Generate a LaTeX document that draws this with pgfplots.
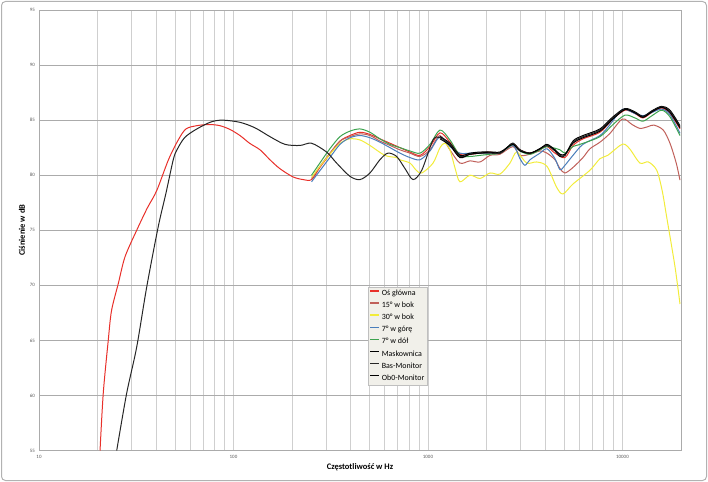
\documentclass[border=0pt]{standalone}
\usepackage{fontspec}
\setmainfont{Carlito}
\usepackage{pgfplots}
\pgfplotsset{compat=1.18}
\definecolor{cRed}{HTML}{E8302A}
\definecolor{cBrown}{HTML}{C0605A}
\definecolor{cYel}{HTML}{F2EC3A}
\definecolor{cBlue}{HTML}{4A7EBB}
\definecolor{cGreen}{HTML}{3DA34F}
\definecolor{gridx}{HTML}{CFCFCF}
\definecolor{gridy}{HTML}{ABABAB}
\definecolor{legbg}{HTML}{F1F0EA}
\begin{document}
\begin{tikzpicture}
\useasboundingbox (0,0) rectangle (708bp,482bp);
\draw[gray!60, line width=1bp, rounded corners=4bp] (1.5bp,1.5bp) rectangle (706.5bp,480.5bp);
\begin{axis}[
 at={(39bp,31.5bp)}, anchor=south west,
 width=642bp, height=440.5bp, scale only axis,
 xmode=log, xmin=10, xmax=20000, ymin=55, ymax=95,
 ytick={55,60,...,95},
 xtick={10,100,1000,10000},
 xticklabels={10,100,1000,10000},
 minor xtick={20,30,40,50,60,70,80,90,200,300,400,500,600,700,800,900,2000,3000,4000,5000,6000,7000,8000,9000},
 grid=both,
 major x grid style={gridx, line width=0.8bp},
 minor x grid style={gridx, line width=0.8bp},
 major y grid style={gridy, line width=0.8bp},
 axis line style={gridy, line width=0.8bp},
 tick style={draw=none},
 ticklabel style={font=\fontsize{5}{6}\selectfont, text=gray!70!black, inner sep=0pt},
 yticklabel style={anchor=east, xshift=-4bp},
 xticklabel style={anchor=north, yshift=-5bp},
 /pgf/number format/assume math mode=true,
 xlabel={Częstotliwość w Hz}, ylabel={Ciśnienie w dB},
 label style={font=\fontsize{8.5}{10}\selectfont\bfseries},
 xlabel style={at={(axis description cs:0.5,-0.0386)}, anchor=center},
 ylabel style={at={(axis description cs:-0.0265,0.5)}, anchor=center},
 legend style={at={(0.5125,0.372)}, anchor=north west, fill=legbg, draw=gray!50,
   font=\fontsize{8}{9}\selectfont, row sep=1.9bp, inner sep=1.5bp,
   nodes={inner sep=1.6bp}},
 legend cell align=left,
 legend image code/.code={\draw[#1, line width=1.5bp] (0bp,2.5bp) -- (9bp,2.5bp);},
]
% main axis (red)
\addplot[cRed, line width=1bp, smooth] coordinates {
(20.6,55)(21.4,60.2)(22.7,65)(23.6,67.7)(25.6,70.2)(27.7,72.6)(31.8,75)(36,77)(40.3,78.6)(46.3,81.4)(52,83.2)(57,84.2)(65,84.5)(75,84.6)(85,84.5)(96,84.15)(108,83.6)(121,82.9)(137,82.3)(154,81.4)(173,80.6)(202,79.85)(228,79.6)(252,79.6)
(278,80.7)(313,81.9)(353,83.1)(397,83.6)(447,83.9)(503,83.7)(566,83.3)(638,82.9)(718,82.5)(808,82.1)(910,81.8)(1024,82.6)(1153,83.85)(1297,83.0)(1460,81.9)(1644,81.9)(1851,82.0)(2084,82.1)(2345,82.0)(2736,82.8)(2972,82.3)(3345,82.0)(3767,82.3)(4093,82.6)(4499,82.0)(5063,81.6)(5567,82.7)(6266,83.3)(7664,83.9)(8937,85.1)(10300,85.9)(11590,85.6)(12750,85.2)(14180,85.7)(15900,86.1)(17550,85.6)(19760,84.2)};
\addlegendentry{Oś główna}
% 15 deg (brown)
\addplot[cBrown, line width=1bp, smooth] coordinates {
(252,79.7)(278,80.8)(313,82.0)(353,83.1)(397,83.5)(447,83.75)(503,83.6)(566,83.1)(638,82.7)(718,82.3)(808,82.0)(910,81.7)(1024,82.3)(1153,83.6)(1297,82.3)(1460,81.1)(1644,81.3)(1851,81.2)(2084,81.8)(2345,81.9)(2736,82.6)(2972,81.8)(3345,81.9)(3767,82.2)(4093,82.0)(4499,81.4)(4773,80.6)(5063,80.2)(5567,80.7)(6266,81.6)(6808,82.4)(7664,83.0)(8628,83.8)(10000,85.1)(11200,84.6)(12300,84.25)(13500,84.4)(14500,84.55)(16200,84.1)(17550,82.9)(18900,81.1)(19760,79.55)};
\addlegendentry{15° w bok}
% 30 deg (yellow)
\addplot[cYel, line width=1bp, smooth] coordinates {
(252,79.8)(278,80.8)(313,81.9)(353,82.9)(397,83.3)(447,83.2)(503,82.7)(600,81.8)(690,81.6)(718,81.4)(808,81.1)(870,80.45)(930,80.2)(1062,81.1)(1153,82.5)(1220,82.9)(1297,82.3)(1380,80.6)(1460,79.4)(1644,80.0)(1851,79.7)(2084,80.2)(2345,80.1)(2640,81.1)(2858,82.1)(3217,81.1)(3622,81.2)(4093,80.8)(4588,78.9)(4945,78.3)(5567,79.2)(6808,80.45)(7664,81.5)(8400,81.8)(9712,82.7)(10300,82.8)(11000,82.3)(12300,81.1)(13590,81.2)(15000,80.45)(16000,78.6)(16880,76.2)(18620,71.7)(19760,68.3)};
\addlegendentry{30° w bok}
% 7 deg up (blue)
\addplot[cBlue, line width=1bp, smooth] coordinates {
(252,79.4)(278,80.4)(313,81.6)(353,82.8)(397,83.4)(447,83.6)(503,83.4)(566,83.0)(638,82.5)(718,82.0)(808,81.6)(910,81.4)(1024,82.2)(1153,83.5)(1297,82.6)(1460,82.0)(1644,82.0)(1851,82.0)(2084,82.0)(2345,82.0)(2736,82.7)(2972,81.5)(3150,80.9)(3345,81.4)(3767,82.0)(4093,82.4)(4499,81.5)(4773,80.5)(5063,80.9)(5567,81.8)(6266,82.8)(7664,83.6)(8628,84.6)(9712,85.8)(10300,86.0)(11590,85.6)(12750,85.4)(14180,85.7)(15900,86.0)(17550,85.5)(19760,83.8)};
\addlegendentry{7° w górę}
% 7 deg down (green)
\addplot[cGreen, line width=1bp, smooth] coordinates {
(252,80.0)(278,81.1)(313,82.4)(353,83.5)(397,84.0)(447,84.2)(503,83.9)(566,83.3)(638,82.8)(718,82.5)(808,82.2)(910,82.0)(1024,82.8)(1153,84.1)(1297,83.2)(1460,81.8)(1644,81.7)(1851,81.8)(2084,81.9)(2345,82.0)(2736,82.8)(2972,82.2)(3345,81.9)(3767,82.3)(4093,82.6)(4773,82.3)(5063,82.0)(5567,82.6)(6048,82.8)(7664,83.5)(8937,84.6)(10300,85.45)(11590,85.2)(12750,84.9)(14180,85.4)(15900,85.9)(17550,85.3)(19760,83.6)};
\addlegendentry{7° w dół}
% Maskownica (black)
\addplot[black, line width=1bp, smooth] coordinates {
(1153,83.5)(1297,82.9)(1460,81.8)(1644,82.0)(1851,82.1)(2084,82.1)(2345,82.0)(2548,82.5)(2736,82.9)(2972,82.3)(3345,82.0)(3767,82.4)(4093,82.7)(4499,82.2)(4773,81.7)(5063,81.8)(5567,83.1)(6266,83.6)(7664,84.2)(8937,85.3)(10300,86.05)(11590,85.75)(12750,85.35)(14180,85.85)(15900,86.25)(17550,85.9)(19760,84.5)};
\addlegendentry{Maskownica}
% Bas-Monitor (black)
\addplot[black!85, line width=1bp, smooth] coordinates {
(25.1,55)(28.2,60.15)(31.8,64.4)(35.8,69.85)(41,75.3)(45,78.4)(49,81.4)(51.2,82.3)(56,83.4)(63.4,84.1)(75.7,84.8)(87.3,85.0)(108,84.8)(129,84.3)(154,83.5)(184,82.8)(220,82.7)(252,82.9)(301,82.1)(339,81.1)(397,79.9)(447,79.6)(503,80.2)(566,81.4)(622,82.0)(690,81.7)(762,80.6)(838,79.6)(929,80.45)(1062,83.2)(1153,83.4)(1297,82.8)(1460,81.7)(1644,81.9)(1851,82.0)(2084,82.0)(2345,82.0)(2548,82.5)(2736,82.9)(2972,82.3)(3345,82.0)(3767,82.4)(4093,82.7)(4499,82.3)(4773,81.8)(5063,81.8)(5567,83.0)(6266,83.5)(7664,84.1)(8937,85.2)(10300,86.0)(11590,85.7)(12750,85.3)(14180,85.8)(15900,86.2)(17550,85.8)(19760,84.4)};
\addlegendentry{Bas-Monitor}
% Ob0-Monitor (black)
\addplot[black, line width=1bp, smooth] coordinates {
(1153,83.3)(1297,82.7)(1460,81.6)(1644,81.9)(1851,82.0)(2084,82.1)(2345,82.1)(2548,82.5)(2736,82.8)(2972,82.2)(3345,82.0)(3767,82.4)(4093,82.8)(4499,82.3)(4773,81.9)(5063,81.9)(5567,82.9)(6266,83.4)(7664,84.0)(8937,85.1)(10300,85.95)(11590,85.65)(12750,85.25)(14180,85.75)(15900,86.15)(17550,85.7)(19760,84.3)};
\addlegendentry{Ob0-Monitor}
\end{axis}
\end{tikzpicture}
\end{document}
